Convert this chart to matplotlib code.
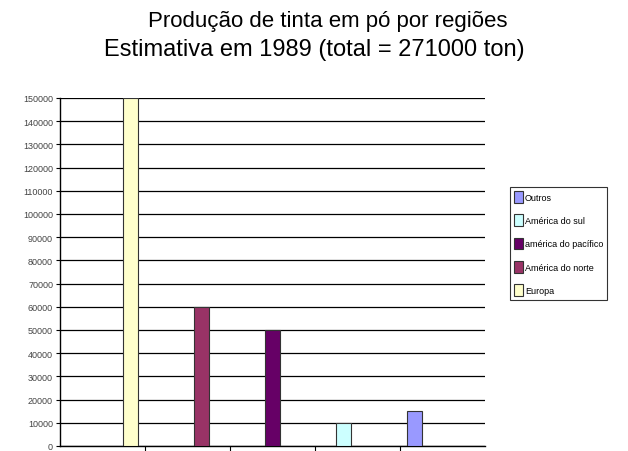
import matplotlib.pyplot as plt

regions = ['Europa', 'América do norte', 'américa do pacífico', 'América do sul', 'Outros']
production = [150000, 60000, 50000, 10000, 15000]
colors = ['#FFFFCC', '#993366', '#660066', '#CCFFFF', '#9999FF']
yticks = list(range(0, 150001, 10000))

plt.rcParams['font.family'] = ['Liberation Sans', 'DejaVu Sans']

fig = plt.figure(figsize=(6.28, 4.52), dpi=100)
ax = fig.add_axes([60 / 628, 5 / 452, 425 / 628, 348 / 452])

positions = [i + 1 for i in range(len(regions))]
bars = []
for pos, val, col, name in zip(positions, production, colors, regions):
    b = ax.bar(pos, val, width=0.21, color=col, edgecolor='#333333', linewidth=0.8,
               label=name, zorder=3)
    bars.append(b)

ax.set_xlim(0, 6)
ax.set_ylim(0, 150000)
ax.set_yticks(yticks)
ax.set_yticklabels([str(t) for t in yticks], fontsize=6.5, color='#444444')
ax.set_xticks([1.2, 2.4, 3.6, 4.8])
ax.set_xticklabels([])
ax.tick_params(axis='x', direction='out', length=5, width=0.8, colors='black')
ax.tick_params(axis='y', direction='out', length=3, width=0.8, pad=2)
ax.yaxis.grid(True, color='black', linewidth=0.9, zorder=0)
ax.set_axisbelow(True)
for s in ['top', 'right']:
    ax.spines[s].set_visible(False)
ax.spines['left'].set_linewidth(1.0)
ax.spines['bottom'].set_linewidth(1.0)

fig.text(0.522, 1 - 21 / 452, 'Produção de tinta em pó por regiões', ha='center', va='center',
         fontsize=16)
fig.text(0.5, 1 - 50 / 452, 'Estimativa em 1989 (total = 271000 ton)', ha='center', va='center',
         fontsize=17)

handles = bars[::-1]
leg = fig.legend(handles, [r for r in regions[::-1]], loc='upper left',
                 bbox_to_anchor=(510 / 628, 1 - 188 / 452), fontsize=6.5,
                 frameon=True, fancybox=False, edgecolor='black', handlelength=0.95,
                 handleheight=1.6, handletextpad=0.25, labelspacing=1.3, borderpad=0.45,
                 borderaxespad=0)
leg.get_frame().set_linewidth(0.8)

fig.savefig('out.png', dpi=100)
